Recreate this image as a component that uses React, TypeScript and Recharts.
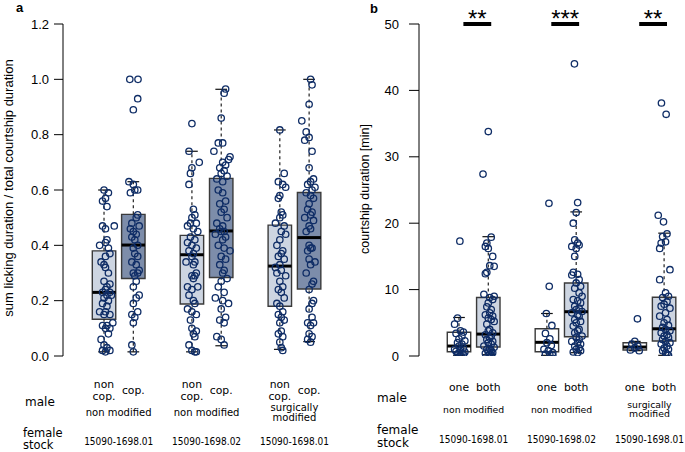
import React from 'react';
import { ScatterChart, Scatter, XAxis, YAxis, ReferenceArea, ReferenceLine } from 'recharts';

// box slots on the x axis: two boxes per group, groups 3 apart
const boxPos = [1, 2, 4, 5, 7, 8];
const groupPos = [1.5, 4.5, 7.5];

const boxLabelsA = ['non\ncop.', 'cop.', 'non\ncop.', 'cop.', 'non\ncop.', 'cop.'];
const boxLabelsB = ['one', 'both', 'one', 'both', 'one', 'both'];
const modLabels = ['non modified', 'non modified', 'surgically\nmodified'];
const stockLabels = ['15090-1698.01', '15090-1698.02', '15090-1698.01'];
const sigLabels = ['**', '***', '**'];

// panel a: sum licking duration / total courtship duration
const loA = [0.015, 0.015, 0.015, 0.037, 0.024, 0.052];
const q1A = [0.133, 0.28, 0.188, 0.284, 0.18, 0.242];
const medA = [0.23, 0.401, 0.366, 0.452, 0.325, 0.428];
const q3A = [0.38, 0.512, 0.436, 0.642, 0.473, 0.591];
const hiA = [0.6, 0.63, 0.74, 0.964, 0.817, 1.0];

// panel b: courtship duration [min]
const loB = [0.1, 0.2, 0.1, 0.5, 0.8, 0.1];
const q1B = [0.65, 1.35, 0.65, 2.9, 0.9, 2.26];
const medB = [1.5, 3.3, 2.06, 6.67, 1.35, 4.1];
const q3B = [3.57, 8.8, 4.1, 11.0, 2.0, 8.84];
const hiB = [5.8, 17.97, 6.4, 21.7, 2.2, 18.5];

// raw observations per box as [jitter, value]
const ptsA1 = [[0.0,0.60],[0.15,0.59],[0.05,0.57],[-0.05,0.56],[0.1,0.54],[-0.05,0.47],[0.05,0.46],[0.35,0.47],[0.1,0.42],[0.05,0.41],[-0.15,0.40],[0.15,0.39],[0.2,0.37],[0.05,0.36],[-0.1,0.34],[0.0,0.33],[0.05,0.32],[0.15,0.30],[0.0,0.27],[0.2,0.26],[0.1,0.25],[0.05,0.24],[-0.05,0.23],[0.2,0.23],[0.1,0.22],[0.25,0.22],[0.0,0.21],[0.15,0.20],[-0.05,0.19],[0.1,0.18],[0.05,0.16],[-0.15,0.16],[0.2,0.15],[0.0,0.15],[0.3,0.12],[0.1,0.11],[-0.05,0.11],[0.2,0.10],[0.05,0.10],[0.15,0.08],[-0.1,0.06],[0.0,0.04],[0.1,0.03],[-0.05,0.02],[0.2,0.02],[0.05,0.015]];
const ptsA2 = [[-0.12,1.0],[0.16,1.0],[0.15,0.93],[0.0,0.89],[-0.15,0.63],[0.0,0.62],[0.15,0.60],[0.05,0.60],[-0.1,0.59],[0.15,0.51],[0.1,0.50],[-0.05,0.48],[0.2,0.47],[-0.1,0.46],[0.0,0.45],[0.1,0.44],[-0.05,0.43],[0.05,0.42],[0.15,0.40],[0.0,0.39],[0.05,0.37],[0.15,0.36],[-0.05,0.34],[0.1,0.33],[0.2,0.31],[0.0,0.30],[0.15,0.30],[0.05,0.29],[0.1,0.27],[0.0,0.25],[0.2,0.22],[0.1,0.21],[0.0,0.19],[0.15,0.16],[-0.05,0.15],[0.05,0.14],[0.0,0.12],[-0.05,0.04],[0.0,0.015]];
const ptsA3 = [[0.0,0.84],[-0.1,0.74],[0.25,0.70],[0.0,0.68],[-0.05,0.66],[-0.1,0.62],[0.05,0.53],[0.1,0.51],[0.0,0.50],[-0.05,0.48],[0.15,0.48],[-0.15,0.47],[0.05,0.46],[0.2,0.45],[-0.05,0.43],[0.1,0.42],[-0.15,0.41],[0.0,0.40],[0.15,0.39],[-0.1,0.38],[0.05,0.37],[0.0,0.36],[-0.2,0.34],[0.1,0.34],[0.05,0.33],[0.15,0.30],[0.0,0.29],[0.1,0.29],[0.05,0.28],[-0.15,0.25],[0.2,0.25],[0.0,0.24],[-0.1,0.22],[0.05,0.20],[0.1,0.19],[-0.15,0.17],[0.0,0.16],[0.15,0.15],[-0.05,0.13],[0.0,0.10],[0.15,0.09],[0.05,0.08],[0.1,0.07],[-0.1,0.04],[0.0,0.02],[0.1,0.015],[0.15,0.015]];
const ptsA4 = [[0.15,0.965],[0.1,0.95],[0.0,0.86],[-0.1,0.77],[0.05,0.77],[-0.25,0.74],[0.3,0.72],[0.25,0.71],[0.05,0.70],[0.15,0.69],[-0.05,0.68],[0.1,0.67],[0.0,0.66],[0.2,0.65],[-0.15,0.64],[0.05,0.63],[-0.1,0.60],[0.05,0.59],[0.15,0.56],[-0.05,0.55],[0.1,0.53],[0.0,0.52],[0.2,0.50],[-0.15,0.48],[0.05,0.47],[-0.05,0.46],[0.1,0.45],[0.0,0.45],[-0.2,0.44],[0.15,0.43],[0.05,0.42],[-0.1,0.40],[0.1,0.39],[0.3,0.38],[0.0,0.36],[0.15,0.35],[-0.05,0.33],[0.1,0.31],[0.05,0.30],[0.2,0.28],[0.0,0.27],[-0.1,0.25],[0.1,0.23],[-0.2,0.21],[0.05,0.20],[0.25,0.19],[0.0,0.17],[0.15,0.14],[-0.05,0.13],[0.1,0.12],[-0.15,0.07],[0.0,0.06],[0.1,0.04]];
const ptsA5 = [[0.0,0.817],[0.15,0.66],[-0.05,0.63],[0.1,0.62],[0.2,0.61],[0.0,0.58],[-0.05,0.57],[0.05,0.52],[0.1,0.51],[0.0,0.50],[-0.15,0.48],[0.15,0.47],[0.05,0.45],[0.2,0.44],[0.0,0.42],[-0.1,0.40],[0.1,0.38],[0.05,0.37],[-0.05,0.36],[0.15,0.35],[0.0,0.33],[-0.15,0.32],[0.05,0.31],[-0.1,0.30],[0.2,0.29],[0.0,0.27],[0.1,0.25],[-0.05,0.24],[0.05,0.23],[0.15,0.21],[-0.1,0.19],[0.0,0.18],[0.1,0.16],[-0.05,0.15],[0.05,0.14],[0.15,0.13],[0.0,0.12],[0.05,0.09],[-0.05,0.08],[0.1,0.07],[0.0,0.05],[0.05,0.03],[0.1,0.02]];
const ptsA6 = [[0.05,1.0],[0.1,0.98],[0.0,0.91],[-0.25,0.85],[-0.1,0.81],[0.0,0.79],[-0.15,0.78],[0.1,0.74],[0.0,0.68],[0.15,0.64],[0.05,0.63],[-0.05,0.62],[0.2,0.61],[0.1,0.60],[-0.1,0.59],[0.05,0.58],[0.15,0.57],[0.0,0.55],[-0.05,0.53],[0.1,0.52],[0.05,0.51],[-0.15,0.50],[0.15,0.49],[0.0,0.47],[0.05,0.46],[-0.1,0.45],[0.0,0.40],[0.1,0.39],[0.05,0.39],[-0.05,0.38],[0.0,0.35],[0.2,0.34],[0.05,0.33],[-0.1,0.30],[0.15,0.27],[0.1,0.26],[0.0,0.24],[0.15,0.20],[0.1,0.19],[0.0,0.17],[0.1,0.14],[-0.05,0.12],[0.15,0.12],[0.05,0.11],[0.0,0.08],[0.1,0.07],[-0.05,0.06],[0.05,0.05]];

const ptsB1 = [[0.03,17.3],[-0.05,5.7],[-0.15,4.8],[0.05,3.8],[0.15,3.6],[-0.1,3.4],[0.1,3.0],[0.0,2.6],[0.2,2.3],[-0.05,2.0],[0.1,1.8],[0.0,1.5],[0.15,1.2],[-0.15,1.0],[0.05,0.9],[-0.1,0.7],[0.2,0.6],[0.0,0.5],[0.1,0.4],[-0.05,0.3],[0.15,0.2],[0.05,0.1]];
const ptsB2 = [[0.0,33.8],[-0.18,27.4],[0.1,17.9],[-0.05,17.0],[-0.1,16.5],[0.0,16.2],[0.15,15.0],[0.05,13.6],[0.2,13.5],[-0.05,12.6],[-0.1,12.4],[-0.15,9.3],[0.2,9.0],[0.05,8.8],[0.15,8.5],[0.0,8.0],[-0.05,7.4],[0.1,7.0],[0.05,6.5],[-0.1,6.2],[0.15,6.0],[0.0,5.7],[0.1,5.5],[0.2,5.2],[-0.05,4.8],[0.05,4.0],[0.0,3.8],[0.15,3.5],[-0.1,3.2],[0.1,3.0],[0.05,2.7],[-0.05,2.5],[0.15,2.2],[0.0,2.0],[0.1,1.8],[-0.15,1.5],[0.2,1.3],[0.05,1.1],[-0.05,1.0],[0.1,0.8],[0.0,0.6],[0.15,0.5],[-0.1,0.4],[0.05,0.3],[0.1,0.2],[0.0,0.1]];
const ptsB3 = [[0.07,23.0],[0.08,10.5],[-0.02,6.4],[0.17,4.6],[-0.05,3.4],[0.1,2.6],[0.0,2.0],[0.15,1.6],[-0.1,1.0],[0.05,0.8],[0.2,0.5],[-0.05,0.3],[0.1,0.2],[0.2,0.1]];
const ptsB4 = [[-0.06,44.0],[0.05,23.1],[0.0,21.6],[-0.1,20.0],[-0.05,17.5],[0.05,17.0],[0.1,16.7],[-0.15,16.5],[0.0,16.2],[-0.05,15.0],[-0.1,12.6],[0.05,12.3],[-0.15,12.2],[0.1,11.5],[0.0,11.0],[0.15,10.5],[-0.05,10.2],[0.1,9.5],[0.2,9.0],[-0.1,8.5],[0.05,8.3],[0.15,8.0],[-0.05,7.5],[0.1,7.2],[0.0,7.0],[0.2,6.7],[-0.15,6.5],[0.05,6.2],[0.1,6.0],[-0.05,5.5],[0.15,5.2],[0.0,5.0],[-0.1,4.5],[0.1,4.0],[0.05,3.8],[-0.05,3.5],[0.2,3.0],[0.0,2.8],[0.1,2.5],[-0.15,2.2],[0.05,2.0],[0.15,1.8],[-0.05,1.5],[0.1,1.2],[0.0,1.0],[0.15,0.8],[-0.1,0.6],[0.05,0.5]];
const ptsB5 = [[0.09,5.6],[0.0,2.2],[-0.1,1.8],[0.1,1.5],[0.0,1.2],[-0.15,0.9],[0.15,0.8]];
const ptsB6 = [[-0.09,38.1],[0.07,36.4],[-0.2,21.2],[-0.02,20.2],[0.1,18.4],[-0.05,18.0],[0.05,17.2],[-0.1,17.0],[-0.15,16.2],[0.2,13.0],[-0.15,11.5],[0.05,9.5],[0.15,9.0],[-0.05,8.8],[0.1,8.2],[0.0,7.8],[-0.1,7.5],[0.2,7.2],[0.05,6.5],[-0.15,6.0],[0.1,5.5],[0.0,5.0],[0.15,4.6],[-0.05,4.3],[0.05,4.0],[0.2,3.8],[-0.1,3.5],[0.1,3.2],[0.0,3.0],[0.15,2.8],[-0.05,2.5],[0.05,2.2],[0.2,2.0],[-0.1,1.8],[0.1,1.5],[0.0,1.2],[0.15,1.0],[-0.05,0.8],[0.05,0.5],[0.1,0.3],[0.15,0.1]];

const LIGHT = '#cdd5e1';
const DARK = '#7d8daa';
const NAVY = '#0f2d66';
const LABEL_FONT = '"DejaVu Sans", sans-serif';
const AXIS_FONT = '"Liberation Sans", Arial, sans-serif';

const toPoints = (boxes: number[][][]) =>
  boxes.flatMap((pts, i) => pts.map(([dx, v]) => ({ x: boxPos[i] + dx, y: v })));

const Circle = (p: any) => <circle cx={p.cx} cy={p.cy} r={3.2} fill="none" stroke={NAVY} strokeWidth={1.3} />;

// stacked lines in one <text>, centred on y
const Lines = ({ x, y, text, gap, size, style }: any) => {
  const lines = text.split('\n');
  return (
    <text x={x} y={y - ((lines.length - 1) / 2) * gap} textAnchor="middle" fontSize={size} fontFamily={LABEL_FONT} fill="#000" style={style}>
      {lines.map((l: string, k: number) => (
        <tspan key={k} x={x} dy={k === 0 ? 0 : gap}>{l}</tspan>
      ))}
    </text>
  );
};

// x-axis tick: box labels on the integer slots, group labels on the half slots
const makeTick = (boxLabels: string[], cfg: { boxY: number; grpY: number; stockY: number; grpSize: number }) => (props: any) => {
  const { x, y, payload } = props;
  const bi = boxPos.indexOf(payload.value);
  if (bi >= 0) {
    return <Lines x={x} y={y + cfg.boxY} text={boxLabels[bi]} gap={12.5} size={10.8} />;
  }
  const gi = groupPos.indexOf(payload.value);
  if (gi < 0) return <g />;
  return (
    <g>
      <Lines x={x} y={y + cfg.grpY} text={modLabels[gi]} gap={9.5} size={cfg.grpSize} />
      <Lines x={x} y={y + cfg.stockY} text={stockLabels[gi]} gap={0} size={10} style={{ fontStretch: 'condensed' }} />
    </g>
  );
};

type PanelProps = {
  left: number;
  yAxisWidth: number;
  marginRight: number;
  xDomain: [number, number];
  yDomain: [number, number];
  yTicks: number[];
  tickSize: number;
  tickMargin: number;
  fmt: (v: number) => string;
  lo: number[]; q1: number[]; med: number[]; q3: number[]; hi: number[];
  fills: string[];
  boxes: number[][][];
  tick: (p: any) => React.ReactElement;
  sig?: boolean;
};

const BoxPanel = (p: PanelProps) => {
  const data = toPoints(p.boxes);
  return (
    <div style={{ position: 'absolute', left: p.left, top: 0 }}>
      <ScatterChart width={345} height={452} margin={{ top: 24, right: p.marginRight, bottom: 0, left: 0 }}>
        <XAxis type="number" dataKey="x" domain={p.xDomain} allowDataOverflow ticks={[...boxPos, ...groupPos].sort((a, b) => a - b)} interval={0} height={96} axisLine={false} tickLine={false} tickSize={0} tickMargin={0} tick={p.tick} />
        <YAxis type="number" dataKey="y" domain={p.yDomain} allowDataOverflow ticks={p.yTicks} width={p.yAxisWidth} tickSize={p.tickSize} tickMargin={p.tickMargin} tickFormatter={p.fmt} stroke="#000" tick={{ fill: '#000', fontSize: 13, fontFamily: AXIS_FONT }} />
        {boxPos.map((x, i) => (
          <ReferenceArea key={'box' + i} x1={x - 0.4} x2={x + 0.4} y1={p.q1[i]} y2={p.q3[i]} fill={p.fills[i]} fillOpacity={1} stroke="#3a3a3a" strokeWidth={1.4} />
        ))}
        {boxPos.map((x, i) => (
          <ReferenceLine key={'wu' + i} segment={[{ x, y: p.q3[i] }, { x, y: p.hi[i] }]} stroke="#222" strokeDasharray="3 3" strokeWidth={1.2} />
        ))}
        {boxPos.map((x, i) => (
          <ReferenceLine key={'wl' + i} segment={[{ x, y: p.lo[i] }, { x, y: p.q1[i] }]} stroke="#222" strokeDasharray="3 3" strokeWidth={1.2} />
        ))}
        {boxPos.map((x, i) => (
          <ReferenceLine key={'cu' + i} segment={[{ x: x - 0.2, y: p.hi[i] }, { x: x + 0.2, y: p.hi[i] }]} stroke="#111" strokeWidth={1.2} />
        ))}
        {boxPos.map((x, i) => (
          <ReferenceLine key={'cl' + i} segment={[{ x: x - 0.2, y: p.lo[i] }, { x: x + 0.2, y: p.lo[i] }]} stroke="#111" strokeWidth={1.2} />
        ))}
        {boxPos.map((x, i) => (
          <ReferenceLine key={'md' + i} segment={[{ x: x - 0.4, y: p.med[i] }, { x: x + 0.4, y: p.med[i] }]} stroke="#000" strokeWidth={3} />
        ))}
        {p.sig && groupPos.map((g, i) => (
          <ReferenceLine key={'sig' + i} segment={[{ x: g - 0.35, y: p.yDomain[1] }, { x: g + 0.6, y: p.yDomain[1] }]} stroke="#000" strokeWidth={4}
            label={{ value: sigLabels[i], position: 'top', offset: -3, fontSize: 24, fill: '#000', fontFamily: AXIS_FONT }} />
        ))}
        <Scatter data={data} dataKey="y" shape={Circle} isAnimationActive={false} />
      </ScatterChart>
    </div>
  );
};

export default function App() {
  const tickA = makeTick(boxLabelsA, { boxY: 37.8, grpY: 60, stockY: 89, grpSize: 10 });
  const tickB = makeTick(boxLabelsB, { boxY: 34.7, grpY: 56.7, stockY: 86.7, grpSize: 9.3 });
  return (
    <div style={{ position: 'absolute', left: 0, top: 0, width: 685, height: 452, background: '#fff' }}>
      <BoxPanel
        left={0} yAxisWidth={63} marginRight={7} xDomain={[-0.4, -0.4 + 275 / 29.3]}
        yDomain={[0, 1.2]} yTicks={[0, 0.2, 0.4, 0.6, 0.8, 1.0, 1.2]} tickSize={9} tickMargin={5}
        fmt={(v) => v.toFixed(1)}
        lo={loA} q1={q1A} med={medA} q3={q3A} hi={hiA}
        fills={[LIGHT, DARK, LIGHT, DARK, LIGHT, DARK]}
        boxes={[ptsA1, ptsA2, ptsA3, ptsA4, ptsA5, ptsA6]}
        tick={tickA}
      />
      <BoxPanel
        left={340} yAxisWidth={79} marginRight={3} xDomain={[-0.365, -0.365 + 263 / 29.3]}
        yDomain={[0, 50]} yTicks={[0, 10, 20, 30, 40, 50]} tickSize={10} tickMargin={10}
        fmt={(v) => String(v)}
        lo={loB} q1={q1B} med={medB} q3={q3B} hi={hiB}
        fills={['#ffffff', LIGHT, '#ffffff', LIGHT, '#ffffff', LIGHT]}
        boxes={[ptsB1, ptsB2, ptsB3, ptsB4, ptsB5, ptsB6]}
        tick={tickB}
        sig
      />
      <svg width={685} height={452} style={{ position: 'absolute', left: 0, top: 0, pointerEvents: 'none' }}>
        <text x={16} y={12} fontSize={13} fontWeight="bold" fontFamily={AXIS_FONT}>a</text>
        <text x={370} y={13} fontSize={13} fontWeight="bold" fontFamily={AXIS_FONT}>b</text>
        <text transform="translate(13,188) rotate(-90)" textAnchor="middle" fontSize={13} fontFamily={AXIS_FONT}>sum licking duration / total courtship duration</text>
        <text transform="translate(369,189) rotate(-90)" textAnchor="middle" fontSize={12.5} fontFamily={AXIS_FONT}>courtship duration [min]</text>
        <g fontFamily={LABEL_FONT} fill="#000">
          <text x={25} y={406} fontSize={12}>male</text>
          <text x={23} y={436.5} fontSize={11.5}>female</text>
          <text x={23} y={449} fontSize={11.5}>stock</text>
          <text x={377} y={401.7} fontSize={12}>male</text>
          <text x={377} y={434} fontSize={12}>female</text>
          <text x={377} y={446.5} fontSize={12}>stock</text>
        </g>
      </svg>
    </div>
  );
}
